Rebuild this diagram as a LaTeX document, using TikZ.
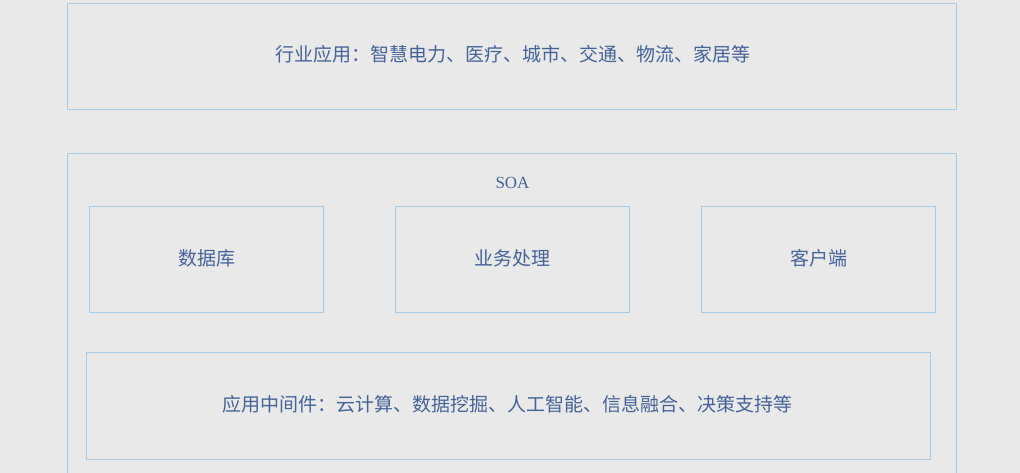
\documentclass[tikz,border=0pt]{standalone}
\usepackage{fontspec}
\setmainfont{Liberation Serif}
\newfontfamily\cjk{Noto Sans CJK SC}
\definecolor{bgc}{HTML}{E9E9E9}
\definecolor{edge}{HTML}{A6CBE6}
\definecolor{txt}{HTML}{43639A}
\begin{document}
\begin{tikzpicture}[x=1pt,y=-1pt,
  layer/.style={draw=edge, line width=1pt, fill=none},
  label/.style={text=txt, font=\cjk\fontsize{19}{21}\selectfont, inner sep=0pt},
  soalabel/.style={text=txt, font=\fontsize{17}{19}\selectfont, inner sep=0pt}]
\useasboundingbox (0,0) rectangle (1020,473);
\clip (0,0) rectangle (1020,473);
\fill[bgc] (0,0) rectangle (1020,473);
% top layer
\draw[layer] (67.5,3.5) rectangle (956.5,109.5);
\node[label] (app) at (512.5,54) {行业应用：智慧电力、医疗、城市、交通、物流、家居等};
% SOA layer
\draw[layer] (67.5,153.5) rectangle (956.5,490);
\node[soalabel] (soa) at (512.5,183) {SOA};
\draw[layer] (89.5,206.5) rectangle (323.5,312.5);
\node[label] (db) at (206.5,258) {数据库};
\draw[layer] (395.5,206.5) rectangle (629.5,312.5);
\node[label] (biz) at (512.5,258) {业务处理};
\draw[layer] (701.5,206.5) rectangle (935.5,312.5);
\node[label] (cli) at (818.5,258) {客户端};
\draw[layer] (86.5,352.5) rectangle (930.5,459.5);
\node[label] (mid) at (507.5,404) {应用中间件：云计算、数据挖掘、人工智能、信息融合、决策支持等};
\end{tikzpicture}
\end{document}
